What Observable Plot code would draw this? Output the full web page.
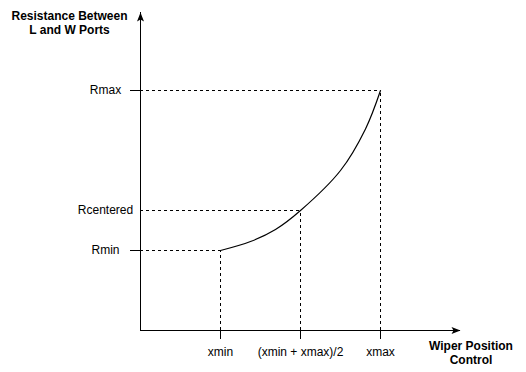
<!DOCTYPE html>
<html>
<head>
<meta charset="utf-8">
<script src="https://cdn.jsdelivr.net/npm/d3@7"></script>
<script src="https://cdn.jsdelivr.net/npm/@observablehq/plot@0.6"></script>
<style>
  html, body { margin: 0; padding: 0; background: #fff; }
</style>
</head>
<body>
<div id="chart"></div>
<script>
// Tick positions and labels
const xTicks = [1, 2, 3];
const xLabels = ["xmin", "(xmin + xmax)/2", "xmax"];
const yTicks = [2, 3, 6];
const yLabels = ["Rmin", "Rcentered", "Rmax"];
const yTickMarks = [2, 6]; // only Rmin and Rmax have a solid tick

// Axis extents (arrow tips)
const xAxisEnd = 4;
const yAxisEnd = 7.95;

// Curve
const curveX = [1, 1.375, 1.6875, 2, 2.5, 2.8125, 3];
const curveY = [2, 2.225, 2.525, 3, 4, 5.04, 6];

const xTitle = ["Wiper Position", "Control"];
const yTitle = ["Resistance Between", "L and W Ports"];

const curve = curveX.map((x, i) => ({x, y: curveY[i]}));
const guides = xTicks.map((x, i) => ({x, y: yTicks[i]}));

const arrowHead = {
  draw(ctx) {
    ctx.moveTo(0, 0);
    ctx.lineTo(3.5, 9);
    ctx.lineTo(0, 7);
    ctx.lineTo(-3.5, 9);
    ctx.closePath();
  }
};

const chart = Plot.plot({
  width: 526,
  height: 372,
  marginLeft: 140,
  marginRight: 66,
  marginTop: 12,
  marginBottom: 42,
  style: {fontFamily: "'Liberation Sans', Arial, Helvetica, sans-serif", fontSize: "12px", background: "#fff", color: "#000"},
  x: {domain: [0, xAxisEnd], label: null},
  y: {domain: [0, yAxisEnd], label: null},
  marks: [
    // dashed guides
    Plot.ruleY(guides, {y: "y", x1: 0, x2: "x", stroke: "#000", strokeDasharray: "3,3"}),
    Plot.ruleX(guides, {x: "x", y1: 0, y2: "y", stroke: "#000", strokeDasharray: "3,3"}),
    // axes lines
    Plot.ruleX([0], {y1: 0, y2: yAxisEnd, stroke: "#000"}),
    Plot.ruleY([0], {x1: 0, x2: xAxisEnd, stroke: "#000"}),
    // arrow heads
    Plot.dot([{x: 0, y: yAxisEnd}], {x: "x", y: "y", symbol: arrowHead, fill: "#000", stroke: "none", rotate: 0}),
    Plot.dot([{x: xAxisEnd, y: 0}], {x: "x", y: "y", symbol: arrowHead, fill: "#000", stroke: "none", rotate: 90}),
    // x axis ticks and labels
    Plot.axisX({ticks: xTicks, tickFormat: d => xLabels[xTicks.indexOf(d)], tickSize: 9, tickPadding: 8, label: null}),
    // y axis tick marks
    Plot.axisY({ticks: yTickMarks, tickFormat: () => "", tickSize: 10, label: null}),
    // y axis labels (centred)
    Plot.axisY({ticks: yTicks, tickFormat: d => yLabels[yTicks.indexOf(d)], tickSize: 0, tickPadding: 0, textAnchor: "middle", dx: -35, label: null}),
    // curve
    Plot.line(curve, {x: "x", y: "y", curve: "catmull-rom", stroke: "#000", strokeWidth: 1.2}),
    // axis titles
    Plot.text([yTitle.join("\n")], {frameAnchor: "top-left", dx: -71, dy: -2.5, textAnchor: "middle", lineAnchor: "top", lineHeight: 1.17, fontWeight: "bold"}),
    Plot.text([xTitle.join("\n")], {frameAnchor: "bottom-right", dx: 10.5, dy: 9.5, textAnchor: "middle", lineAnchor: "top", lineHeight: 1.17, fontWeight: "bold"})
  ]
});
document.getElementById("chart").appendChild(chart);
</script>
</body>
</html>
